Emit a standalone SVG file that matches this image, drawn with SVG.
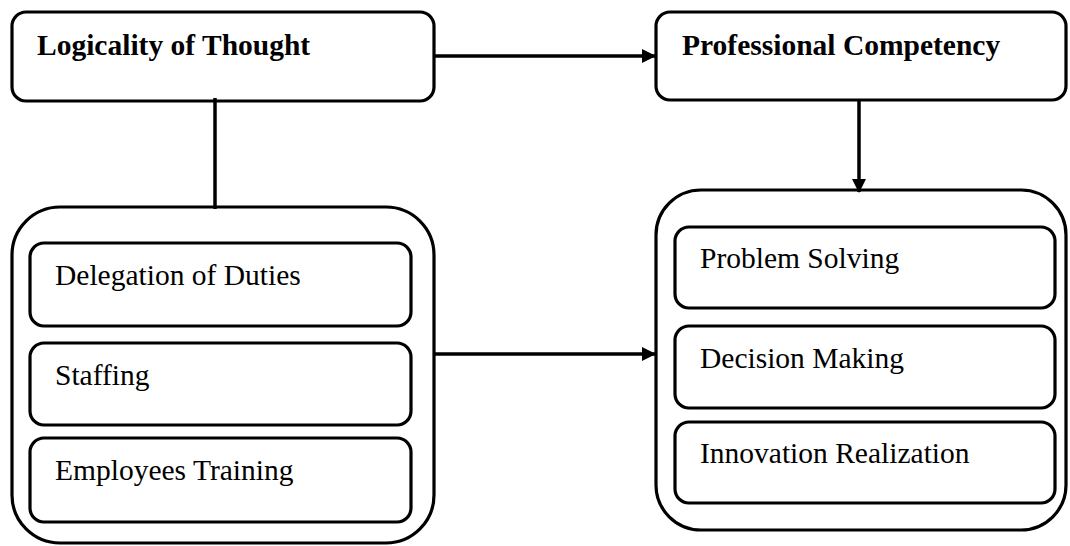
<svg xmlns="http://www.w3.org/2000/svg" width="1070" height="546" viewBox="0 0 1070 546">
<style>
.box{fill:#fff;stroke:#000;stroke-width:3.2}
.t{font-family:"Liberation Serif","Times New Roman",serif;font-size:29.5px;fill:#000}
.b{font-weight:bold}
.c{stroke:#000;stroke-width:3.5;fill:none}
</style>
<defs>
<marker id="ah" markerWidth="14" markerHeight="14" refX="13" refY="7" orient="auto" markerUnits="userSpaceOnUse">
<path d="M0,0 L14,7 L0,14 Z" fill="#000"/>
</marker>
</defs>
<g id="logicality">
<rect class="box" x="12" y="12" width="422" height="89" rx="14"/>
<text class="t b" x="37" y="55">Logicality of Thought</text>
</g>
<g id="competency">
<rect class="box" x="656" y="12" width="410" height="88" rx="14"/>
<text class="t b" x="682" y="55">Professional Competency</text>
</g>
<g id="left-group">
<rect class="box" x="12" y="207" width="422" height="336" rx="48"/>
<g id="delegation">
<rect class="box" x="30" y="243" width="381" height="83" rx="14"/>
<text class="t" x="55" y="285">Delegation of Duties</text>
</g>
<g id="staffing">
<rect class="box" x="30" y="343" width="381" height="82" rx="14"/>
<text class="t" x="55" y="385">Staffing</text>
</g>
<g id="training">
<rect class="box" x="30" y="438" width="381" height="84" rx="14"/>
<text class="t" x="55" y="480">Employees Training</text>
</g>
</g>
<g id="right-group">
<rect class="box" x="656" y="190" width="410" height="340" rx="45"/>
<g id="problem">
<rect class="box" x="675" y="227" width="380" height="81" rx="14"/>
<text class="t" x="700" y="268">Problem Solving</text>
</g>
<g id="decision">
<rect class="box" x="675" y="326" width="380" height="82" rx="14"/>
<text class="t" x="700" y="368">Decision Making</text>
</g>
<g id="innovation">
<rect class="box" x="675" y="422" width="380" height="81" rx="14"/>
<text class="t" x="700" y="463">Innovation Realization</text>
</g>
</g>
<g id="connectors">
<line class="c" x1="434" y1="56" x2="655" y2="56" marker-end="url(#ah)"/>
<line class="c" x1="215" y1="98" x2="215" y2="209"/>
<line class="c" x1="859" y1="100" x2="859" y2="192" marker-end="url(#ah)"/>
<line class="c" x1="434" y1="354" x2="655" y2="354" marker-end="url(#ah)"/>
</g>
</svg>
